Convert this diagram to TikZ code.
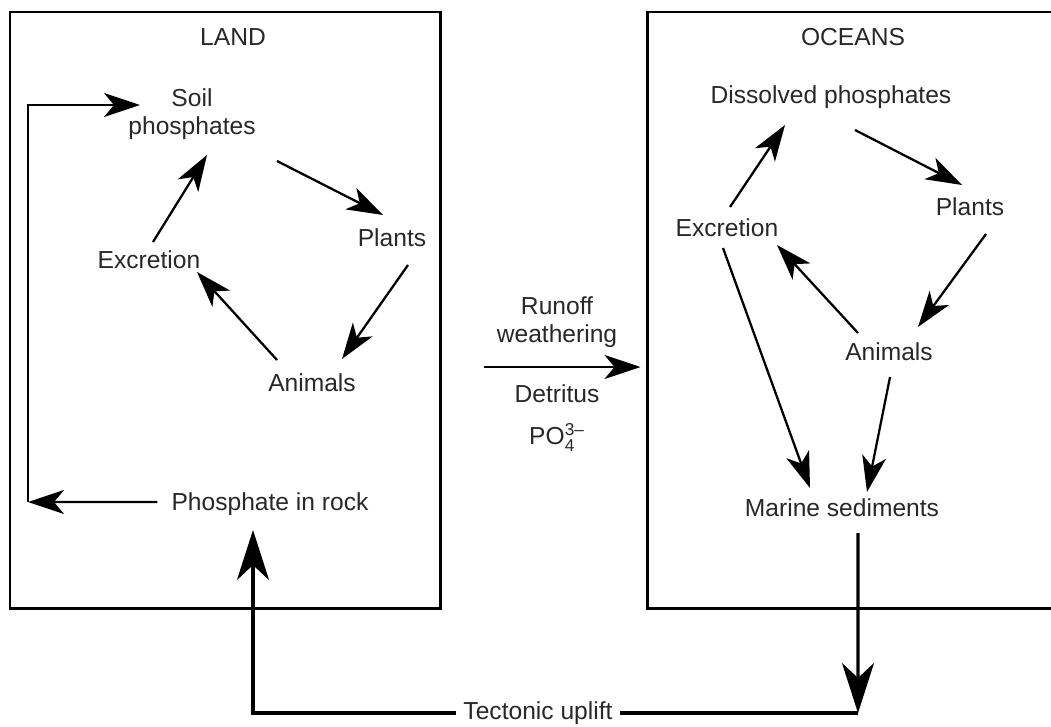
\documentclass[tikz,border=0pt]{standalone}
\usepackage{amsmath}
\usepackage{fontspec}
\setmainfont{Liberation Sans}
\usetikzlibrary{arrows.meta,calc}
\definecolor{txtgray}{RGB}{40,40,40}

\begin{document}
\begin{tikzpicture}[
    every node/.style={align=center, text=txtgray, font=\fontsize{14}{16}\selectfont, inner sep=1pt},
    box/.style={draw, line width=1.7pt, inner sep=0pt},
    arr/.style={line width=1.3pt, -{Stealth[length=0.72cm, width=0.48cm, inset=0.2cm]}},
    bigarr/.style={line width=1.8pt, -{Stealth[length=1cm, width=0.64cm, inset=0.3cm]}},
    link/.style={line width=1.8pt}
]
\useasboundingbox (0,0) rectangle (21.02,-14.52);

\node[box, minimum width=8.6cm, minimum height=11.92cm] (landbox) at (4.5,-6.2) {};
\node[box, minimum width=8.4cm, minimum height=11.92cm] (oceanbox) at (17.14,-6.2) {};

\node (land) at (4.66,-0.74) {LAND};
\node (soil) at (3.84,-2.28) {Soil\\phosphates};
\node (plants) at (7.84,-4.76) {Plants};
\node (animals) at (6.24,-7.66) {Animals};
\node (excr) at (2.98,-5.2) {Excretion};
\node (rock) at (5.4,-10.08) {Phosphate in rock};

\node (oceans) at (17.06,-0.74) {OCEANS};
\node (diss) at (16.62,-1.94) {Dissolved phosphates};
\node (oplants) at (19.4,-4.14) {Plants};
\node (oexcr) at (14.54,-4.56) {Excretion};
\node (oanim) at (17.78,-7.04) {Animals};
\node (marine) at (16.84,-10.16) {Marine sediments};

\node (runoff) at (11.14,-6.44) {Runoff\\weathering};
\node (detritus) at (11.14,-8.36) {Detritus\\[8pt]PO$_{\text{4}}^{\text{3–}}$};
\node[inner sep=4pt] (tect) at (10.76,-14.26) {Tectonic uplift};

\coordinate (bend) at (0.56,-10.04);
\coordinate (sink) at (17.16,-14.26);

\draw[arr] ($(soil)+(1.7,-0.94)$) -- ($(plants)+(-0.18,0.46)$);
\draw[arr] ($(plants)+(0.32,-0.54)$) -- ($(animals)+(0.6,0.48)$);
\draw[arr] ($(animals)+(-0.7,0.46)$) -- ($(excr)+(0.96,-0.24)$);
\draw[arr] ($(excr)+(0.08,0.36)$) -- ($(soil)+(0.3,-0.82)$);
\draw[arr] ($(rock.west)+(-0.24,0.04)$) -- (bend);
\draw[arr] (bend) |- ($(soil)+(-1.04,0.18)$);

\draw[arr] ($(oexcr)+(0.06,0.42)$) -- ($(diss)+(-0.92,-0.56)$);
\draw[arr] ($(diss)+(0.48,-0.66)$) -- ($(oplants)+(-0.16,0.44)$);
\draw[arr] ($(oplants)+(0.32,-0.54)$) -- ($(oanim)+(0.58,0.5)$);
\draw[arr] ($(oanim)+(-0.62,0.38)$) -- ($(oexcr)+(1,-0.34)$);
\draw[arr] ($(oexcr)+(-0.08,-0.4)$) -- ($(marine)+(-0.64,0.4)$);
\draw[arr] ($(oanim)+(0.02,-0.5)$) -- ($(marine)+(0.5,0.32)$);

\draw[arr] ($(landbox.east)+(0.84,-1.14)$) -- ($(oceanbox.west)+(-0.1,-1.14)$);

\draw[bigarr] ($(marine)+(0.32,-0.5)$) -- (sink);
\draw[link] (tect.east) -- (sink);
\draw[bigarr] (tect.west) -| ($(rock)+(-0.34,-0.52)$);
\end{tikzpicture}
\end{document}
